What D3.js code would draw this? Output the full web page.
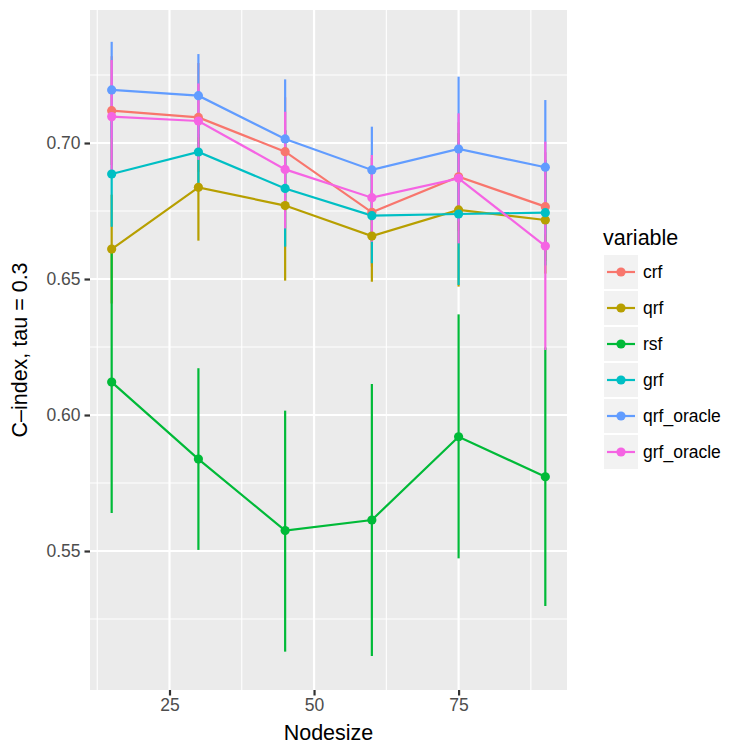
<!DOCTYPE html>
<html>
<head>
<meta charset="utf-8">
<script src="https://cdn.jsdelivr.net/npm/d3@7"></script>
<style>
  html, body { margin: 0; padding: 0; background: #fff; }
  svg text { font-family: "Liberation Sans", Arial, sans-serif; }
</style>
</head>
<body>
<div id="chart"></div>
<script>
// x positions shared by every series
var nodesize = [15, 30, 45, 60, 75, 90];
var seriesNames = ['crf', 'qrf', 'rsf', 'grf', 'qrf_oracle', 'grf_oracle'];
var seriesColors = ['#F8766D', '#B79F00', '#00BA38', '#00BFC4', '#619CFF', '#F564E3'];

// mean C-index per series, and error bar ends
var crfMean = [0.7119, 0.7094, 0.6968, 0.6745, 0.6876, 0.6766];
var crfLow  = [0.6919, 0.6894, 0.6768, 0.6545, 0.6676, 0.6566];
var crfHigh = [0.7319, 0.7294, 0.7168, 0.6945, 0.7076, 0.6966];

var qrfMean = [0.6610, 0.6837, 0.6770, 0.6658, 0.6754, 0.6717];
var qrfLow  = [0.6410, 0.6641, 0.6494, 0.6490, 0.6472, 0.6520];
var qrfHigh = [0.6810, 0.7033, 0.7046, 0.6826, 0.7036, 0.6914];

var rsfMean = [0.6121, 0.5838, 0.5575, 0.5614, 0.5920, 0.5773];
var rsfLow  = [0.5640, 0.5504, 0.5130, 0.5114, 0.5473, 0.5298];
var rsfHigh = [0.6602, 0.6172, 0.6016, 0.6114, 0.6370, 0.6248];

var grfMean = [0.6886, 0.6967, 0.6833, 0.6733, 0.6739, 0.6744];
var grfLow  = [0.6692, 0.6840, 0.6619, 0.6558, 0.6478, 0.6550];
var grfHigh = [0.7080, 0.7094, 0.7047, 0.6908, 0.7000, 0.6938];

var qrfOracleMean = [0.7195, 0.7174, 0.7015, 0.6901, 0.6978, 0.6911];
var qrfOracleLow  = [0.7018, 0.7021, 0.6796, 0.6742, 0.6712, 0.6664];
var qrfOracleHigh = [0.7372, 0.7327, 0.7234, 0.7060, 0.7244, 0.7158];

var grfOracleMean = [0.7097, 0.7081, 0.6903, 0.6799, 0.6870, 0.6621];
var grfOracleLow  = [0.6890, 0.6938, 0.6686, 0.6637, 0.6631, 0.6239];
var grfOracleHigh = [0.7305, 0.7219, 0.7115, 0.6956, 0.7109, 0.7005];

var xTicks = [25, 50, 75];
var xMinor = [12.5, 37.5, 62.5, 87.5];
var yTicks = [0.55, 0.60, 0.65, 0.70];
var yMinor = [0.525, 0.575, 0.625, 0.675, 0.725];

var means = [crfMean, qrfMean, rsfMean, grfMean, qrfOracleMean, grfOracleMean];
var lows = [crfLow, qrfLow, rsfLow, grfLow, qrfOracleLow, grfOracleLow];
var highs = [crfHigh, qrfHigh, rsfHigh, grfHigh, qrfOracleHigh, grfOracleHigh];

var series = seriesNames.map(function (name, i) {
  return {
    name: name,
    color: seriesColors[i],
    values: nodesize.map(function (n, j) {
      return { x: n, y: means[i][j], lo: lows[i][j], hi: highs[i][j] };
    })
  };
});

var width = 750, height = 750;
var panel = { left: 90, right: 567, top: 10, bottom: 690 };

var svg = d3.select('#chart').append('svg')
  .attr('width', width).attr('height', height);
svg.append('rect').attr('width', width).attr('height', height).attr('fill', '#fff');

var x = d3.scaleLinear().domain([11.25, 93.75]).range([panel.left, panel.right]);
var y = d3.scaleLinear().domain([0.4989, 0.7489]).range([panel.bottom, panel.top]);

// panel background + grid
svg.append('rect')
  .attr('x', panel.left).attr('y', panel.top)
  .attr('width', panel.right - panel.left).attr('height', panel.bottom - panel.top)
  .attr('fill', '#EBEBEB');

var grid = svg.append('g');
grid.selectAll('.ymin').data(yMinor).enter().append('line')
  .attr('x1', panel.left).attr('x2', panel.right)
  .attr('y1', function (d) { return y(d); }).attr('y2', function (d) { return y(d); })
  .attr('stroke', '#fff').attr('stroke-width', 1.1);
grid.selectAll('.xmin').data(xMinor).enter().append('line')
  .attr('y1', panel.top).attr('y2', panel.bottom)
  .attr('x1', function (d) { return x(d); }).attr('x2', function (d) { return x(d); })
  .attr('stroke', '#fff').attr('stroke-width', 1.1);
grid.selectAll('.ymaj').data(yTicks).enter().append('line')
  .attr('x1', panel.left).attr('x2', panel.right)
  .attr('y1', function (d) { return y(d); }).attr('y2', function (d) { return y(d); })
  .attr('stroke', '#fff').attr('stroke-width', 2.2);
grid.selectAll('.xmaj').data(xTicks).enter().append('line')
  .attr('y1', panel.top).attr('y2', panel.bottom)
  .attr('x1', function (d) { return x(d); }).attr('x2', function (d) { return x(d); })
  .attr('stroke', '#fff').attr('stroke-width', 2.2);

// error bars
var bars = svg.append('g');
series.forEach(function (s) {
  bars.selectAll(null).data(s.values).enter().append('line')
    .attr('x1', function (d) { return x(d.x); }).attr('x2', function (d) { return x(d.x); })
    .attr('y1', function (d) { return y(d.lo); }).attr('y2', function (d) { return y(d.hi); })
    .attr('stroke', s.color).attr('stroke-width', 2.2);
});

// lines
var line = d3.line().x(function (d) { return x(d.x); }).y(function (d) { return y(d.y); });
var lines = svg.append('g');
series.forEach(function (s) {
  lines.append('path').datum(s.values)
    .attr('d', line).attr('fill', 'none')
    .attr('stroke', s.color).attr('stroke-width', 2.2);
});

// points
var pts = svg.append('g');
series.forEach(function (s) {
  pts.selectAll(null).data(s.values).enter().append('circle')
    .attr('cx', function (d) { return x(d.x); }).attr('cy', function (d) { return y(d.y); })
    .attr('r', 4.6).attr('fill', s.color);
});

// axes
var yAxis = svg.append('g').attr('transform', 'translate(' + panel.left + ',0)')
  .call(d3.axisLeft(y).tickValues(yTicks).tickFormat(d3.format('.2f')).tickSize(5.5).tickPadding(4));
var xAxis = svg.append('g').attr('transform', 'translate(0,' + panel.bottom + ')')
  .call(d3.axisBottom(x).tickValues(xTicks).tickFormat(d3.format('d')).tickSize(5.5).tickPadding(3));
[yAxis, xAxis].forEach(function (a) {
  a.select('.domain').remove();
  a.selectAll('.tick line').attr('stroke', '#333').attr('stroke-width', 2.2);
  a.selectAll('.tick text').attr('fill', '#4D4D4D').style('font-size', '17.5px')
    .style('font-family', '"Liberation Sans", Arial, sans-serif');
});

svg.append('text')
  .attr('x', (panel.left + panel.right) / 2).attr('y', 740)
  .attr('text-anchor', 'middle').style('font-size', '21.5px').attr('fill', '#000')
  .text('Nodesize');
svg.append('text')
  .attr('transform', 'translate(27,' + ((panel.top + panel.bottom) / 2) + ') rotate(-90)')
  .attr('text-anchor', 'middle').style('font-size', '21.5px').attr('fill', '#000')
  .text('C\u2013index, tau = 0.3');

// legend
var legend = svg.append('g').attr('transform', 'translate(604,255)');
legend.append('text').attr('x', -1).attr('y', -10)
  .style('font-size', '21.5px').attr('fill', '#000').text('variable');
var keys = legend.selectAll('.key').data(series).enter().append('g')
  .attr('transform', function (d, i) { return 'translate(0,' + (i * 36) + ')'; });
keys.append('rect').attr('width', 34).attr('height', 34).attr('fill', '#F2F2F2');
keys.append('line').attr('x1', 3).attr('x2', 31).attr('y1', 17).attr('y2', 17)
  .attr('stroke', function (d) { return d.color; }).attr('stroke-width', 2.2);
keys.append('circle').attr('cx', 17).attr('cy', 17).attr('r', 4.6)
  .attr('fill', function (d) { return d.color; });
keys.append('text').attr('x', 39).attr('y', 17).attr('dy', '0.35em')
  .style('font-size', '17.5px').attr('fill', '#000')
  .text(function (d) { return d.name; });
</script>
</body>
</html>
